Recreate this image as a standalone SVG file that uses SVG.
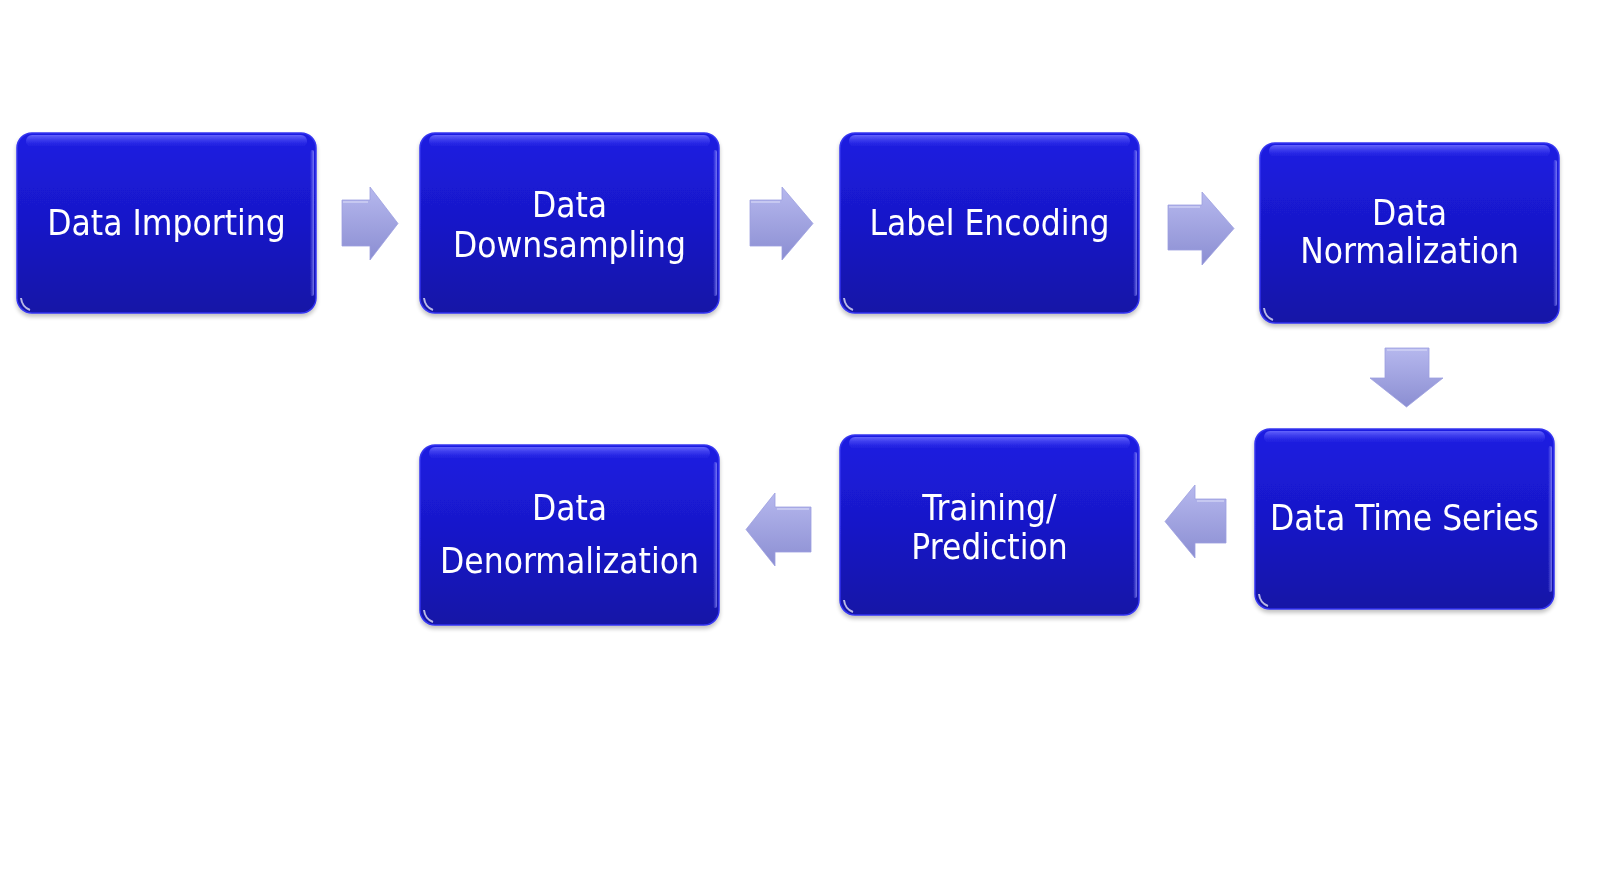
<svg xmlns="http://www.w3.org/2000/svg" width="1603" height="880" viewBox="0 0 1603 880">
<defs>
  <linearGradient id="boxFill" x1="0" y1="0" x2="0" y2="1">
    <stop offset="0" stop-color="#1d1de2"/>
    <stop offset="0.5" stop-color="#1818c8"/>
    <stop offset="1" stop-color="#1313a6"/>
  </linearGradient>
  <linearGradient id="gloss" x1="0" y1="0" x2="0" y2="1">
    <stop offset="0" stop-color="#6a6aff" stop-opacity="0.9"/>
    <stop offset="1" stop-color="#3a3af0" stop-opacity="0"/>
  </linearGradient>
  <linearGradient id="rightEdge" x1="0" y1="0" x2="1" y2="0">
    <stop offset="0" stop-color="#8a8aff" stop-opacity="0"/>
    <stop offset="1" stop-color="#a0a0ff" stop-opacity="0.7"/>
  </linearGradient>
  <linearGradient id="arrowFill" x1="0" y1="0" x2="0" y2="1">
    <stop offset="0" stop-color="#b6b8ee"/>
    <stop offset="1" stop-color="#8b8ed2"/>
  </linearGradient>
  <filter id="shadow" x="-5%" y="-5%" width="110%" height="115%">
    <feGaussianBlur in="SourceAlpha" stdDeviation="2"/>
    <feOffset dy="3"/>
    <feComponentTransfer><feFuncA type="linear" slope="0.25"/></feComponentTransfer>
    <feMerge><feMergeNode/><feMergeNode in="SourceGraphic"/></feMerge>
  </filter>
</defs>
<style>
  .box { fill: url(#boxFill); stroke: #3434f0; stroke-width: 1.5; }
  .gl { fill: url(#gloss); }
  .re { fill: url(#rightEdge); }
  .spot { fill: none; stroke: #ffffff; stroke-width: 2; opacity: 0.7; }
  .lbl { fill: #ffffff; font-family: "DejaVu Sans Condensed", "DejaVu Sans", "Liberation Sans", sans-serif; font-stretch: condensed; font-size: 35px; text-anchor: middle; }
  .arr { fill: url(#arrowFill); stroke: #9da0e0; stroke-width: 0.8; }
  .hl { fill: none; stroke: #d8d9f8; stroke-width: 1.5; opacity: 0.8; }
</style>
<rect width="1603" height="880" fill="#ffffff"/>

<g id="connectors">
  <g id="a1"><polygon class="arr" points="342,200 370,200 370,187 398,223.5 370,260 370,246 342,246"/><polyline class="hl" points="343,202 368,202"/></g>
  <g id="a2"><polygon class="arr" points="750,200 782,200 782,187 813,223.5 782,260 782,246 750,246"/><polyline class="hl" points="751,202 780,202"/></g>
  <g id="a3"><polygon class="arr" points="1168,205 1202,205 1202,192 1234,228.5 1202,265 1202,250 1168,250"/><polyline class="hl" points="1169,207 1200,207"/></g>
  <g id="a4"><polygon class="arr" points="1385,348 1429,348 1429,378 1443,378 1406.5,407 1370,378 1385,378"/><polyline class="hl" points="1387,350 1427,350"/></g>
  <g id="a5"><polygon class="arr" points="1226,499 1195,499 1195,485 1165,521.5 1195,558 1195,543 1226,543"/><polyline class="hl" points="1197,501 1224,501"/></g>
  <g id="a6"><polygon class="arr" points="811,507 775,507 775,493 746,529.5 775,566 775,552 811,552"/><polyline class="hl" points="777,509 809,509"/></g>
</g>

<g id="n1" filter="url(#shadow)">
  <rect class="box" x="17" y="133" width="299" height="180" rx="15"/>
  <rect class="gl" x="26" y="135" width="281" height="12" rx="6"/>
  <rect class="re" x="310" y="150" width="4" height="146" rx="2"/>
  <path class="spot" d="M21,298 Q22,307 30,310"/>
  <text class="lbl" x="166.5" y="235">Data Importing</text>
</g>
<g id="n2" filter="url(#shadow)">
  <rect class="box" x="420" y="133" width="299" height="180" rx="15"/>
  <rect class="gl" x="429" y="135" width="281" height="12" rx="6"/>
  <rect class="re" x="713" y="150" width="4" height="146" rx="2"/>
  <path class="spot" d="M424,298 Q425,307 433,310"/>
  <text class="lbl" x="569.5" y="217">Data</text>
  <text class="lbl" x="569.5" y="257">Downsampling</text>
</g>
<g id="n3" filter="url(#shadow)">
  <rect class="box" x="840" y="133" width="299" height="180" rx="15"/>
  <rect class="gl" x="849" y="135" width="281" height="12" rx="6"/>
  <rect class="re" x="1133" y="150" width="4" height="146" rx="2"/>
  <path class="spot" d="M844,298 Q845,307 853,310"/>
  <text class="lbl" x="989.5" y="235">Label Encoding</text>
</g>
<g id="n4" filter="url(#shadow)">
  <rect class="box" x="1260" y="143" width="299" height="180" rx="15"/>
  <rect class="gl" x="1269" y="145" width="281" height="12" rx="6"/>
  <rect class="re" x="1553" y="160" width="4" height="146" rx="2"/>
  <path class="spot" d="M1264,308 Q1265,317 1273,320"/>
  <text class="lbl" x="1409.5" y="225">Data</text>
  <text class="lbl" x="1409.5" y="263">Normalization</text>
</g>
<g id="n5" filter="url(#shadow)">
  <rect class="box" x="1255" y="429" width="299" height="180" rx="15"/>
  <rect class="gl" x="1264" y="431" width="281" height="12" rx="6"/>
  <rect class="re" x="1548" y="446" width="4" height="146" rx="2"/>
  <path class="spot" d="M1259,594 Q1260,603 1268,606"/>
  <text class="lbl" x="1404.5" y="530">Data Time Series</text>
</g>
<g id="n6" filter="url(#shadow)">
  <rect class="box" x="840" y="435" width="299" height="180" rx="15"/>
  <rect class="gl" x="849" y="437" width="281" height="12" rx="6"/>
  <rect class="re" x="1133" y="452" width="4" height="146" rx="2"/>
  <path class="spot" d="M844,600 Q845,609 853,612"/>
  <text class="lbl" x="989.5" y="520">Training/</text>
  <text class="lbl" x="989.5" y="559">Prediction</text>
</g>
<g id="n7" filter="url(#shadow)">
  <rect class="box" x="420" y="445" width="299" height="180" rx="15"/>
  <rect class="gl" x="429" y="447" width="281" height="12" rx="6"/>
  <rect class="re" x="713" y="462" width="4" height="146" rx="2"/>
  <path class="spot" d="M424,610 Q425,619 433,622"/>
  <text class="lbl" x="569.5" y="520">Data</text>
  <text class="lbl" x="569.5" y="573">Denormalization</text>
</g>
</svg>
